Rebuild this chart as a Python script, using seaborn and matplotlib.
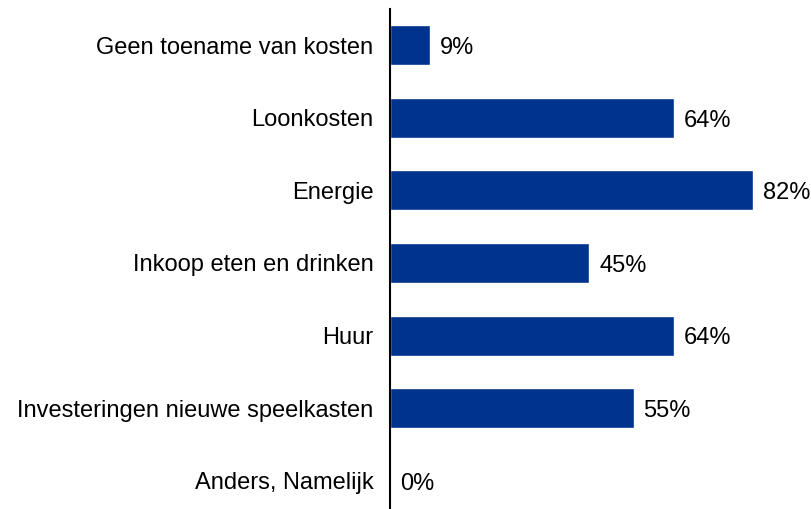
import pandas as pd
from matplotlib import pyplot as plt
import seaborn as sns

sns.set_style('white')
plt.rcParams['font.family'] = ['Liberation Sans', 'DejaVu Sans']
plt.rcParams['text.color'] = 'black'
plt.rcParams['ytick.color'] = 'black'

categories = ['Geen toename van kosten', 'Loonkosten', 'Energie',
              'Inkoop eten en drinken', 'Huur',
              'Investeringen nieuwe speelkasten', 'Anders, Namelijk']
values = [9, 64, 82, 45, 64, 55, 0]

df = pd.DataFrame({'categorie': categories, 'pct': values})

fig = plt.figure(figsize=(8.12, 5.09), dpi=100)
ax = fig.add_axes([390 / 812, 0, 422 / 812, 500 / 509])

sns.barplot(data=df, x='pct', y='categorie', color='#00338D', saturation=1,
            width=0.55, ax=ax)

# value labels right of each bar
for i, v in enumerate(values):
    ax.text(v + 2.2, i + 0.04, f'{v}%', va='center', ha='left', fontsize=17,
            color='black')

ax.set_xlim(0, 422 / 4.43)
ax.set_ylim(6.39, -0.5)
ax.set_xlabel('')
ax.set_ylabel('')
ax.set_xticks([])
ax.tick_params(axis='y', length=0, pad=12, labelsize=17, labelcolor='black')
for side in ['top', 'right', 'bottom']:
    ax.spines[side].set_visible(False)
ax.spines['left'].set_color('black')
ax.spines['left'].set_linewidth(1.5)

fig.savefig('out.png', dpi=100)
